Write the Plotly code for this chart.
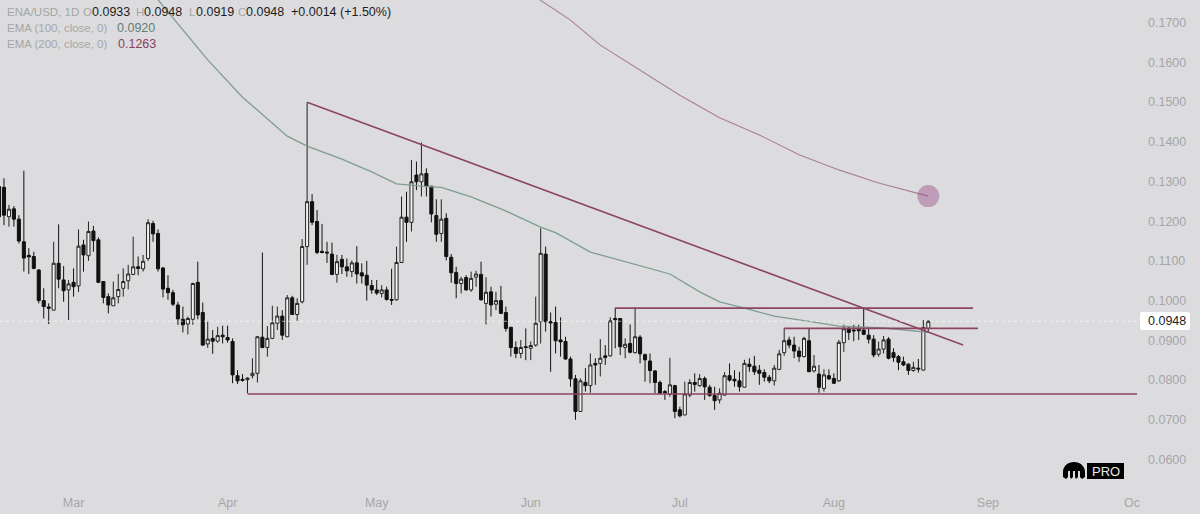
"""
ENA/USD daily candles with EMA lines and hand drawn trend lines
"""
import pandas as pd
import plotly.graph_objects as go

# Prices below are in units of 0.0001
FIRST_DAY = '2025-02-14'

HIGH = [
    1303, 1308, 1241, 1238, 1215, 1327, 1132, 1123, 1079, 1031,
    993, 1148, 1192, 1087, 1052, 1081, 1179, 1153, 1199, 1188,
    1159, 1048, 1018, 1048, 1067, 1081, 1090, 1161, 1111, 1115,
    1205, 1201, 1179, 1085, 1064, 1027, 997, 985, 960, 1045,
    1098, 995, 947, 926, 934, 937, 937, 905, 825, 815,
    807, 855, 911, 1121, 936, 987, 985, 976, 1014, 1012,
    1006, 1155, 1499, 1268, 1228, 1193, 1148, 1146, 1115, 1115,
    1106, 1101, 1137, 1094, 1100, 1052, 1052, 1039, 1035, 1080,
    1136, 1262, 1274, 1354, 1350, 1398, 1333, 1288, 1255, 1255,
    1220, 1117, 1085, 1060, 1064, 1073, 1075, 1098, 1059, 1035,
    1022, 1037, 985, 933, 897, 901, 930, 897, 1010, 1182,
    1136, 970, 985, 958, 909, 859, 813, 804, 830, 867,
    855, 903, 888, 958, 982, 955, 905, 940, 982, 913,
    867, 867, 825, 799, 775, 856, 788, 733, 796, 802,
    817, 815, 809, 788, 783, 779, 820, 842, 825, 821,
    851, 855, 861, 838, 827, 813, 838, 876, 930, 909,
    909, 884, 909, 929, 863, 838, 827, 827, 817, 901,
    939, 934, 939, 939, 981, 930, 913, 897, 911, 908,
    880, 863, 859, 842, 846, 853, 951, 950,
]
BODY_TOP = [
    1287, 1285, 1230, 1231, 1205, 1148, 1114, 1111, 1077, 1000,
    984, 1094, 1094, 1052, 1042, 1046, 1137, 1140, 1174, 1175,
    1153, 1048, 1010, 1007, 1028, 1048, 1067, 1085, 1085, 1099,
    1196, 1194, 1169, 1082, 1031, 1020, 989, 953, 955, 1043,
    1046, 970, 903, 905, 912, 913, 907, 897, 811, 802,
    805, 817, 909, 908, 905, 944, 961, 961, 1007, 1007,
    993, 1136, 1249, 1249, 1199, 1124, 1122, 1117, 1098, 1104,
    1085, 1095, 1095, 1070, 1064, 1038, 1027, 1027, 1027, 1003,
    1096, 1210, 1210, 1299, 1316, 1319, 1320, 1288, 1214, 1205,
    1207, 1109, 1071, 1054, 1058, 1056, 1067, 1066, 1021, 1022,
    1000, 1000, 970, 933, 882, 882, 884, 887, 943, 1119,
    1117, 947, 945, 901, 897, 853, 803, 798, 794, 838,
    842, 855, 861, 949, 955, 955, 890, 892, 909, 908,
    864, 848, 823, 794, 771, 788, 786, 725, 765, 794,
    794, 804, 804, 782, 761, 767, 811, 811, 802, 798,
    842, 840, 835, 825, 819, 807, 830, 866, 899, 901,
    888, 873, 905, 899, 835, 815, 813, 811, 804, 895,
    929, 930, 926, 928, 926, 913, 903, 878, 901, 903,
    869, 859, 846, 840, 832, 830, 932, 948,
]
BODY_BOTTOM = [
    1211, 1215, 1211, 1205, 1150, 1107, 1110, 1081, 1000, 985,
    981, 976, 1054, 1025, 1027, 1035, 1037, 1115, 1113, 1151,
    1046, 1008, 989, 987, 1010, 1031, 1050, 1066, 1081, 1080,
    1106, 1168, 1080, 1029, 1020, 991, 954, 939, 941, 953,
    964, 888, 891, 898, 898, 909, 901, 813, 798, 799,
    801, 811, 817, 882, 882, 905, 943, 913, 909, 965,
    965, 997, 1136, 1197, 1121, 1121, 1120, 1066, 1066, 1085,
    1075, 1073, 1067, 1062, 1039, 1027, 1019, 1018, 1003, 1001,
    1002, 1096, 1197, 1197, 1299, 1299, 1288, 1218, 1167, 1169,
    1111, 1070, 1043, 1043, 1027, 1027, 1059, 1002, 993, 989,
    991, 968, 930, 882, 867, 867, 882, 880, 888, 947,
    947, 944, 899, 896, 853, 803, 721, 721, 786, 786,
    838, 842, 857, 861, 952, 884, 882, 870, 869, 866,
    851, 824, 794, 767, 768, 764, 721, 710, 712, 762,
    789, 786, 783, 761, 748, 750, 762, 800, 798, 783,
    782, 834, 821, 817, 807, 798, 798, 827, 869, 888,
    873, 859, 859, 821, 823, 782, 779, 803, 792, 798,
    894, 920, 924, 924, 915, 903, 863, 865, 878, 855,
    857, 845, 838, 824, 824, 828, 825, 930,
]
LOW = [
    1207, 1190, 1186, 1186, 1144, 1073, 1067, 1079, 993, 955,
    941, 976, 1031, 997, 951, 1010, 1022, 1073, 1100, 1123,
    1044, 993, 968, 987, 993, 1010, 1028, 1064, 1064, 1073,
    1100, 1148, 1073, 1008, 1002, 986, 939, 920, 915, 939,
    953, 886, 881, 866, 894, 892, 894, 792, 790, 796,
    767, 804, 794, 880, 859, 903, 926, 901, 908, 964,
    949, 993, 1090, 1190, 1117, 1119, 1095, 1064, 1045, 1067,
    1060, 1059, 1043, 1043, 1000, 1017, 1014, 1008, 1000, 989,
    1000, 1095, 1148, 1174, 1278, 1262, 1262, 1197, 1148, 1148,
    1101, 1045, 1006, 1018, 1025, 1022, 1035, 1000, 940, 960,
    976, 966, 922, 859, 855, 855, 850, 850, 884, 892,
    922, 821, 867, 859, 851, 783, 700, 721, 771, 768,
    788, 809, 838, 859, 880, 863, 855, 867, 867, 842,
    796, 792, 767, 765, 750, 758, 704, 706, 712, 757,
    771, 783, 750, 758, 725, 741, 762, 796, 783, 771,
    782, 821, 813, 788, 796, 792, 786, 825, 861, 880,
    855, 846, 857, 821, 819, 768, 771, 800, 790, 796,
    871, 901, 898, 901, 913, 892, 857, 859, 867, 852,
    846, 825, 835, 813, 821, 819, 824, 920,
]
# positions in the lists above of the candles that closed up
UP_CANDLES = [
    2, 11, 14, 16, 18, 23, 24, 25, 26, 27, 29, 30, 38, 39, 42, 44, 50, 51, 52,
    54, 55, 56, 58, 60, 61, 62, 68, 71, 77, 80, 81, 83, 85, 89, 93, 95, 96, 98,
    100, 105, 107, 108, 109, 117, 119, 121, 123, 126, 128, 135, 138, 139, 141,
    145, 146, 150, 156, 157, 158, 162, 164, 166, 169, 170, 177, 178, 184, 186, 187,
]

EMA100_DATES = [
    '2025-03-18', '2025-03-28', '2025-04-04', '2025-04-13', '2025-04-17',
    '2025-04-24', '2025-04-30', '2025-05-05', '2025-05-10', '2025-05-14',
    '2025-05-20', '2025-05-26', '2025-06-03', '2025-06-06', '2025-06-13',
    '2025-06-18', '2025-06-29', '2025-07-05', '2025-07-09', '2025-07-14',
    '2025-07-20', '2025-07-28', '2025-08-02', '2025-08-11', '2025-08-20',
]
EMA100 = [
    0.1757, 0.1606, 0.1512, 0.1414, 0.1389, 0.1356, 0.1324, 0.1294, 0.1288, 0.1285,
    0.1261, 0.1231, 0.1185, 0.1171, 0.1122, 0.1105, 0.1067, 0.1022, 0.0997, 0.0981,
    0.0961, 0.0946, 0.0936, 0.0931, 0.0920,
]
EMA200_DATES = [
    '2025-06-02', '2025-06-09', '2025-06-15', '2025-06-23', '2025-07-01', '2025-07-09',
    '2025-07-17', '2025-07-25', '2025-08-02', '2025-08-10', '2025-08-20',
]
EMA200 = [0.1764, 0.1706, 0.1643, 0.1580, 0.1517, 0.1460, 0.1417, 0.1367, 0.1329, 0.1296, 0.1263]

TREND_DATES = ['2025-04-17', '2025-08-27']
TREND = [0.1499, 0.0888]
SUPPORT_DATES = ['2025-04-05', '2025-10-01']
SUPPORT = [0.0765, 0.0765]
UPPER_DATES = ['2025-06-18', '2025-08-29']
UPPER = [0.0981, 0.0981]
MIDDLE_DATES = ['2025-07-22', '2025-08-30']
MIDDLE = [0.0930, 0.0930]

LAST_CLOSE = 0.0948
Y_TICKS = [0.06, 0.07, 0.08, 0.09, 0.10, 0.11, 0.12, 0.13, 0.14, 0.15, 0.16, 0.17]
X_TICKS = ['2025-03-01', '2025-04-01', '2025-05-01', '2025-06-01',
           '2025-07-01', '2025-08-01', '2025-09-01', '2025-09-30']
X_LABELS = ['Mar', 'Apr', 'May', 'Jun', 'Jul', 'Aug', 'Sep', 'Oc']

BG = '#dcdcde'
GREY = '#a6a6a8'
DARK = '#1c1c1e'
MAROON = '#8c4560'
FONT = 'Liberation Sans'
PLOT_W = 1140
PLOT_H = 490


def px(x, y):
    """Picture pixels to paper coordinates of the plot area"""
    return x / PLOT_W, 1 - y / PLOT_H


def label(fig, x, y, text, color, size=12.5):
    xp, yp = px(x, y)
    fig.add_annotation(x=xp, y=yp, xref='paper', yref='paper', text=text, showarrow=False,
                       xanchor='left', yanchor='middle', borderpad=0,
                       font=dict(family=FONT, size=size, color=color))


dates = pd.date_range(FIRST_DAY, periods=len(HIGH), freq='D')
opens = [(BODY_BOTTOM[i] if i in UP_CANDLES else BODY_TOP[i]) / 10000 for i in range(len(HIGH))]
closes = [(BODY_TOP[i] if i in UP_CANDLES else BODY_BOTTOM[i]) / 10000 for i in range(len(HIGH))]

fig = go.Figure()

fig.add_trace(go.Scatter(x=EMA100_DATES, y=EMA100, mode='lines', line=dict(color='#7f9c92', width=1.3)))
fig.add_trace(go.Scatter(x=EMA200_DATES, y=EMA200, mode='lines', line=dict(color='#a8808f', width=1.1)))

for line_dates, line_values in [(TREND_DATES, TREND), (SUPPORT_DATES, SUPPORT),
                                (UPPER_DATES, UPPER), (MIDDLE_DATES, MIDDLE)]:
    fig.add_trace(go.Scatter(x=line_dates, y=line_values, mode='lines', line=dict(color=MAROON, width=1.6)))

fig.add_trace(go.Candlestick(
    x=dates,
    open=opens,
    high=[v / 10000 for v in HIGH],
    low=[v / 10000 for v in LOW],
    close=closes,
    whiskerwidth=0,
    increasing=dict(line=dict(color='#222222', width=1), fillcolor='#f2f2f2'),
    decreasing=dict(line=dict(color='#111111', width=1), fillcolor='#111111'),
))

# marker on the last value of the slow EMA
fig.add_trace(go.Scatter(x=EMA200_DATES[-1:], y=EMA200[-1:], mode='markers',
                         marker=dict(size=22, color='rgba(150, 70, 130, 0.42)', line=dict(width=0))))

fig.add_shape(type='line', xref='paper', x0=0, x1=1, y0=LAST_CLOSE, y1=LAST_CLOSE,
              line=dict(color='rgba(255, 255, 255, 0.6)', width=1, dash='dot'))

fig.update_layout(
    width=1200,
    height=514,
    margin=dict(l=0, r=60, t=0, b=24, autoexpand=False),
    plot_bgcolor=BG,
    paper_bgcolor=BG,
    showlegend=False,
    boxgap=0.12,
    font=dict(family=FONT, size=12, color=GREY),
    xaxis=dict(
        type='date',
        range=['2025-02-14 04:48', '2025-10-01 14:24'],
        rangeslider=dict(visible=False),
        showgrid=False,
        zeroline=False,
        showline=False,
        ticks='',
        tickmode='array',
        tickvals=X_TICKS,
        ticktext=X_LABELS,
        tickfont=dict(family=FONT, size=12.5, color=GREY),
        ticklabelstandoff=3,
    ),
    yaxis=dict(
        side='right',
        range=[0.05233, 0.17566],
        showgrid=False,
        zeroline=False,
        showline=False,
        ticks='',
        tickmode='array',
        tickvals=Y_TICKS,
        tickformat='.4f',
        tickfont=dict(family=FONT, size=12.5, color=GREY),
        ticklabelstandoff=7,
    ),
)

# header readout
for x, text, color, size in [(6, 'ENA/USD, 1D', GREY, 11.5), (82, 'O', GREY, 11.5), (91, '0.0933', DARK, 12.5),
                             (135, 'H', GREY, 11.5), (143, '0.0948', DARK, 12.5), (188, 'L', GREY, 11.5),
                             (195, '0.0919', DARK, 12.5), (237, 'C', GREY, 11.5), (245, '0.0948', DARK, 12.5),
                             (290, '+0.0014 (+1.50%)', DARK, 12.5)]:
    label(fig, x, 12, text, color, size)
label(fig, 6, 28, 'EMA (100, close, 0)', GREY, 11.5)
label(fig, 116, 28, '0.0920', '#5f7f74')
label(fig, 6, 44, 'EMA (200, close, 0)', GREY, 11.5)
label(fig, 117, 44, '0.1263', '#8a3f5c')

# last price tag on the scale
fig.add_shape(type='path', xref='paper', yref='paper', layer='above', line=dict(width=0), fillcolor='#ffffff',
              path=' '.join(
                  f'{c} {px(x, y)[0]} {px(x, y)[1]}' for c, x, y in
                  [('M', 1142, 312), ('L', 1188, 312), ('Q', 1190, 312), ('', 1190, 314), ('L', 1190, 328),
                   ('Q', 1190, 330), ('', 1188, 330), ('L', 1142, 330), ('Q', 1140, 330), ('', 1140, 328),
                   ('L', 1140, 314), ('Q', 1140, 312), ('', 1142, 312)]) + ' Z')
label(fig, 1147, 321, f'{LAST_CLOSE:.4f}', DARK, 12.5)

# Kraken Pro badge
LOGO = [('M', 1063, 472), ('C', 1063, 466), ('', 1068, 462), ('', 1074, 462), ('C', 1080, 462), ('', 1085, 466),
        ('', 1085, 472), ('L', 1085, 477), ('L', 1082, 479), ('L', 1080, 477), ('L', 1080, 471), ('L', 1078, 471),
        ('L', 1078, 477), ('L', 1076, 479), ('L', 1075, 477), ('L', 1075, 471), ('L', 1073, 471), ('L', 1073, 477),
        ('L', 1071, 479), ('L', 1070, 477), ('L', 1070, 471), ('L', 1068, 471), ('L', 1068, 477), ('L', 1066, 479),
        ('L', 1063, 477)]
fig.add_shape(type='path', xref='paper', yref='paper', line=dict(width=0), fillcolor='#000000',
              path=' '.join(f'{c} {px(x, y)[0]} {px(x, y)[1]}' for c, x, y in LOGO) + ' Z')
x0, y1 = px(1087, 479)
x1, y0 = px(1124, 463)
fig.add_shape(type='rect', xref='paper', yref='paper', x0=x0, x1=x1, y0=y1, y1=y0,
              line=dict(width=0), fillcolor='#000000')
label(fig, 1091, 471, 'PRO', '#e8e8e8', 13)

# the page's default body margin would push the chart out of the window
fig.write_html("out.html", config={'displayModeBar': False}, post_script="document.body.style.margin='0';")
